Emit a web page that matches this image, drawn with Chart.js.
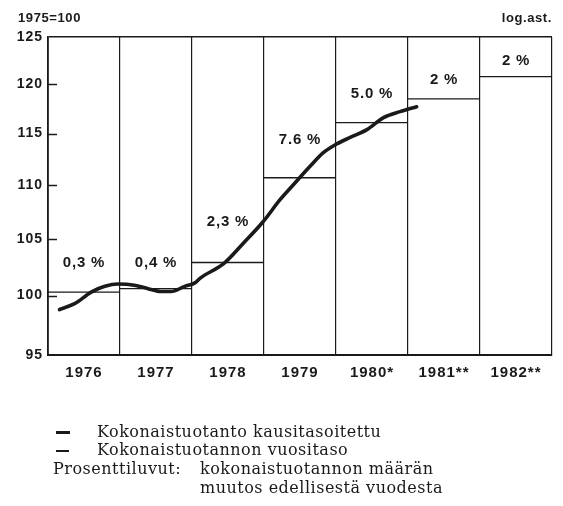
<!DOCTYPE html>
<html><head><meta charset="utf-8">
<script src="https://cdn.jsdelivr.net/npm/chart.js@4.4.1/dist/chart.umd.min.js"></script>
<style>
html,body{margin:0;padding:0;background:#fff;}
#wrap{position:relative;width:563px;height:506px;overflow:hidden;background:#fff;}
#c{position:absolute;left:0;top:0;}
.t{position:absolute;white-space:nowrap;color:#1a1a1a;}
.hd{font:bold 13px "Liberation Sans",Arial,sans-serif;letter-spacing:0.6px;top:10px;line-height:16px;}
.nt{font:16px "DejaVu Serif",serif;letter-spacing:0.5px;line-height:18px;}
.dash{position:absolute;background:#1a1a1a;}
</style></head><body>
<div id="wrap">
<canvas id="c" width="563" height="506"></canvas>
<div class="t hd" style="left:18px">1975=100</div>
<div class="t hd" style="right:11px">log.ast.</div>
<div class="dash" style="left:56px;top:431px;width:14px;height:3px"></div>
<div class="t nt" style="left:97px;top:423px">Kokonaistuotanto kausitasoitettu</div>
<div class="dash" style="left:56px;top:450px;width:13px;height:1.5px"></div>
<div class="t nt" style="left:97px;top:441px">Kokonaistuotannon vuositaso</div>
<div class="t nt" style="left:53px;top:460px">Prosenttiluvut:</div>
<div class="t nt" style="left:200px;top:460px">kokonaistuotannon määrän</div>
<div class="t nt" style="left:200px;top:479px">muutos edellisestä vuodesta</div>
</div>
<script>
// ---- data ----
const yearLabels = ['1976','1977','1978','1979','1980*','1981**','1982**'];
const yearStarts = [1976,1977,1978,1979,1980,1981,1982];
const annualLevel = [100.3,100.6,102.9,110.7,116.1,118.5,120.8];
const changeLabels = ['0,3 %','0,4 %','2,3 %','7.6 %','5.0 %','2 %','2 %'];
const curveTime = [1976.16,1976.37,1976.6,1976.79,1976.97,1977.2,1977.39,1977.57,1977.71,1977.9,1978.04,1978.11,1978.44,1978.71,1978.99,1979.22,1979.43,1979.64,1979.82,1979.99,1980.19,1980.43,1980.66,1980.89,1981.12];
const curveValue = [98.8,99.3,100.3,100.8,101.0,100.9,100.6,100.35,100.35,100.8,101.1,101.5,102.8,104.6,106.6,108.6,110.2,111.8,113.1,113.9,114.6,115.4,116.6,117.2,117.7];
const yTicks = [95,100,105,110,115,120,125];

// ---- styles ----
const INK = '#1a1a1a';
const SANS = '"Liberation Sans",Arial,sans-serif';
const labelOffsets = [29,26,41,38,29,19,16];

const stepData = [];
yearStarts.forEach((yr,i)=>{
  stepData.push({x:yr,y:annualLevel[i]},{x:yr+1,y:annualLevel[i]},{x:yr+1,y:null});
});
const curveData = curveTime.map((t,i)=>({x:t,y:curveValue[i]}));

const extras = {
  id:'extras',
  beforeDraw(chart){ chart.ctx.letterSpacing='1px'; },
  afterDatasetsDraw(chart){
    const ctx = chart.ctx, xl = chart.scales.xl, y = chart.scales.y, area = chart.chartArea;
    ctx.save();
    ctx.strokeStyle = INK; ctx.lineWidth = 1.5;
    yTicks.forEach(v=>{
      if (v===yTicks[0] || v===yTicks[yTicks.length-1]) return;
      const py = Math.round(y.getPixelForValue(v))+0.5;
      ctx.beginPath(); ctx.moveTo(area.left, py); ctx.lineTo(area.left+9, py); ctx.stroke();
    });
    ctx.font = 'bold 15px ' + SANS;
    ctx.letterSpacing = '0.8px';
    ctx.textAlign = 'center'; ctx.textBaseline = 'middle'; ctx.fillStyle = INK;
    yearStarts.forEach((yr,i)=>{
      ctx.fillText(changeLabels[i], xl.getPixelForValue(yr+0.5), y.getPixelForValue(annualLevel[i]) - labelOffsets[i]);
    });
    ctx.restore();
  }
};

new Chart(document.getElementById('c'), {
  type:'line',
  data:{
    labels: yearLabels,
    datasets:[
      {label:'Kokonaistuotannon vuositaso', data:stepData, xAxisID:'xl', yAxisID:'y',
       borderColor:INK, borderWidth:1.4, pointRadius:0, spanGaps:false, tension:0, fill:false},
      {label:'Kokonaistuotanto kausitasoitettu', data:curveData, xAxisID:'xl', yAxisID:'y',
       borderColor:INK, borderWidth:3.6, pointRadius:0, cubicInterpolationMode:'monotone', fill:false,
       borderCapStyle:'round', borderJoinStyle:'round'}
    ]
  },
  options:{
    responsive:false, animation:false, devicePixelRatio:1,
    layout:{padding:{top:37,right:11,left:0,bottom:0}},
    plugins:{legend:{display:false}, tooltip:{enabled:false}},
    scales:{
      x:{type:'category', position:'bottom', offset:true,
         grid:{offset:true, color:INK, lineWidth:1.2, drawTicks:false},
         border:{display:true, color:INK, width:2},
         ticks:{color:INK, padding:9, font:{family:SANS, size:15, weight:'bold'}},
         afterFit(a){ a.height = 151; }},
      xl:{type:'linear', position:'bottom', min:1976, max:1983, display:false},
      y:{type:'logarithmic', position:'left', min:95, max:125,
         afterBuildTicks(a){ a.ticks = yTicks.map(v=>({value:v})); },
         grid:{color:(c)=> (c.tick && c.tick.value===125) ? INK : 'rgba(0,0,0,0)', lineWidth:1.6, drawTicks:false},
         border:{display:true, color:INK, width:1.8},
         ticks:{color:INK, padding:5, font:{family:SANS, size:14, weight:'bold'}, callback:(v)=>String(v)},
         afterFit(a){ a.width = 48; }}
    }
  },
  plugins:[extras]
});
</script>
</body></html>
